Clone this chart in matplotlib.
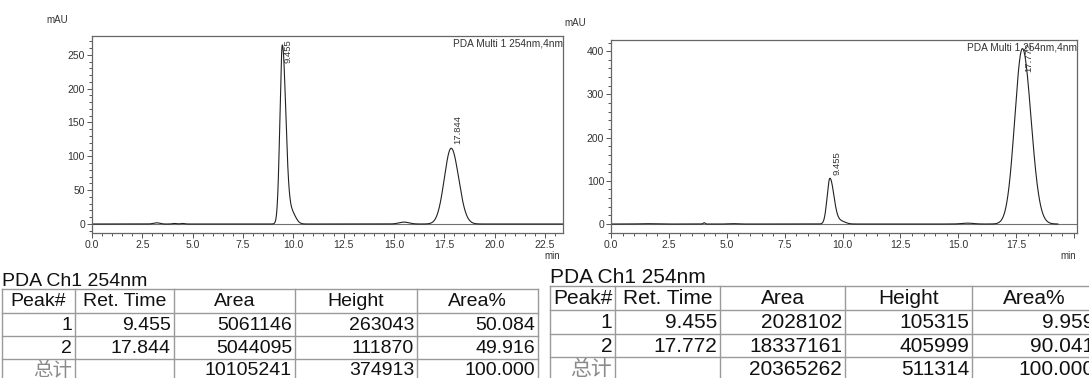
import numpy as np
import matplotlib
matplotlib.use('Agg')
import matplotlib.pyplot as plt
from matplotlib.ticker import MultipleLocator, FormatStrFormatter

plt.rcParams['font.family'] = ['Liberation Sans', 'Noto Sans CJK SC', 'DejaVu Sans']

# ---- chromatogram data ----
# peaks: retention time (min), height (mAU), sigma left, sigma right (min)
left_rt = [9.455, 17.844]
left_height = [263.0, 111.9]
left_sig_l = [0.12, 0.34]
left_sig_r = [0.17, 0.37]
left_tail = [18.0, 0.0]          # small tailing shoulder after each peak
left_bumps_rt = [3.2, 4.1, 4.5, 15.5]
left_bumps_h = [1.8, 0.8, 0.8, 2.8]
left_bumps_w = [0.15, 0.1, 0.1, 0.25]
left_end = 23.4

right_rt = [9.455, 17.772]
right_height = [105.3, 406.0]
right_sig_l = [0.12, 0.33]
right_sig_r = [0.17, 0.37]
right_tail = [7.0, 0.0]
right_bumps_rt = [1.5, 4.02, 5.3, 15.4]
right_bumps_h = [0.8, 3.0, 0.8, 2.0]
right_bumps_w = [0.3, 0.04, 0.2, 0.25]
right_end = 19.3

# ---- table data ----
headers = ['Peak#', 'Ret. Time', 'Area', 'Height', 'Area%']
left_rows = [['1', '9.455', '5061146', '263043', '50.084'],
             ['2', '17.844', '5044095', '111870', '49.916'],
             ['总计', '', '10105241', '374913', '100.000']]
right_rows = [['1', '9.455', '2028102', '105315', '9.959'],
              ['2', '17.772', '18337161', '405999', '90.041'],
              ['总计', '', '20365262', '511314', '100.000']]


def trace(t, rts, hs, sl, sr, tails, brt, bh, bw):
    y = np.zeros_like(t)
    for rt, h, a, b, tl in zip(rts, hs, sl, sr, tails):
        s = np.where(t < rt, a, b)
        y += h * np.exp(-0.5 * ((t - rt) / s) ** 2)
        if tl:
            y += tl * np.exp(-0.5 * ((t - rt - 0.45) / 0.2) ** 2)
    for rt, h, w in zip(brt, bh, bw):
        y += h * np.exp(-0.5 * ((t - rt) / w) ** 2)
    return y


def chrom(ax, rts, hs, sl, sr, tails, brt, bh, bw, end, xlim, ylim,
          ymaj, ymin, label_top):
    t = np.linspace(0, end, 4000)
    y = trace(t, rts, hs, sl, sr, tails, brt, bh, bw)
    ax.axhline(0, color='#707070', lw=0.8, zorder=1)
    ax.plot(t, y, color='#222222', lw=0.8, zorder=2)
    ax.set_xlim(*xlim)
    ax.set_ylim(*ylim)
    ax.xaxis.set_major_locator(MultipleLocator(2.5))
    ax.xaxis.set_minor_locator(MultipleLocator(0.5))
    ax.xaxis.set_major_formatter(FormatStrFormatter('%.1f'))
    ax.yaxis.set_major_locator(MultipleLocator(ymaj))
    ax.yaxis.set_minor_locator(MultipleLocator(ymin))
    ax.tick_params(which='both', direction='out', colors='#555555',
                   labelcolor='#333333', labelsize=7.5, width=0.7, pad=1.5)
    ax.tick_params(which='major', length=3.5)
    ax.tick_params(which='minor', length=2)
    for sp in ax.spines.values():
        sp.set_color('#666666')
        sp.set_linewidth(0.9)
    for rt, h, top in zip(rts, hs, label_top):
        if top:
            ax.annotate('%.3f' % rt, xy=(rt, 1), xycoords=('data', 'axes fraction'),
                        xytext=(6, -3), textcoords='offset pixels', rotation=90,
                        ha='center', va='top', fontsize=6.8, color='#333333')
        else:
            ax.annotate('%.3f' % rt, xy=(rt, h), xytext=(7, 4),
                        textcoords='offset pixels', rotation=90,
                        ha='center', va='bottom', fontsize=6.8, color='#333333')
    ax.text(1.0, 0.985, 'PDA Multi 1 254nm,4nm', transform=ax.transAxes,
            ha='right', va='top', fontsize=7.3, color='#333333')


fig = plt.figure(figsize=(10.89, 3.78), dpi=100)

ax1 = fig.add_axes([0.0845, 0.3836, 0.4325, 0.5212])
chrom(ax1, left_rt, left_height, left_sig_l, left_sig_r, left_tail,
      left_bumps_rt, left_bumps_h, left_bumps_w, left_end,
      (0, 23.4), (-13.3, 277.7), 50, 10, [True, False])

ax2 = fig.add_axes([0.5611, 0.3836, 0.4279, 0.5106])
chrom(ax2, right_rt, right_height, right_sig_l, right_sig_r, right_tail,
      right_bumps_rt, right_bumps_h, right_bumps_w, right_end,
      (0, 20.13), (-20.8, 425.9), 100, 20, [False, True])
# right panel: the 20.0 label is replaced by "min"
ax2.set_xticks([0, 2.5, 5, 7.5, 10, 12.5, 15, 17.5, 20])
ax2.set_xticklabels(['0.0', '2.5', '5.0', '7.5', '10.0', '12.5', '15.0', '17.5', ''])

# overlay in pixel coordinates for the free text and the tables
ov = fig.add_axes([0, 0, 1, 1], zorder=-1)
ov.set_xlim(0, 1089)
ov.set_ylim(378, 0)
ov.axis('off')

ov.text(57, 20, 'mAU', fontsize=7, color='#333333', ha='center', va='center')
ov.text(575, 23, 'mAU', fontsize=7, color='#333333', ha='center', va='center')
ov.text(552, 256, 'min', fontsize=7, color='#333333', ha='center', va='center')
ov.text(1068, 256, 'min', fontsize=7, color='#333333', ha='center', va='center')


def table(cols, rows_y, title_y, data, fs):
    x0 = cols[0]
    ov.text(x0, title_y, 'PDA Ch1 254nm', fontsize=fs, color='#111111',
            ha='left', va='baseline')
    for x in cols:
        ov.plot([x, x], [rows_y[0], rows_y[-1]], color='#9a9a9a', lw=1.0)
    for y in rows_y:
        ov.plot([cols[0], cols[-1]], [y, y], color='#9a9a9a', lw=1.0)
    for j, h in enumerate(headers):
        ov.text((cols[j] + cols[j + 1]) / 2, (rows_y[0] + rows_y[1]) / 2 + 1, h,
                fontsize=fs, ha='center', va='center', color='#111111')
    for i, row in enumerate(data):
        yc = (rows_y[i + 1] + rows_y[i + 2]) / 2 + 1
        for j, v in enumerate(row):
            c = '#8a8a8a' if v == '总计' else '#111111'
            ov.text(cols[j + 1] - 3, yc, v, fontsize=fs, ha='right',
                    va='center', color=c)


table([2, 75, 174, 295, 417, 538], [289, 312.5, 336, 358.5, 381], 286, left_rows, 14)
table([550, 615, 720, 845, 972, 1097], [286, 310, 334, 357, 380], 283, right_rows, 15)

fig.savefig('out.png', dpi=100)
